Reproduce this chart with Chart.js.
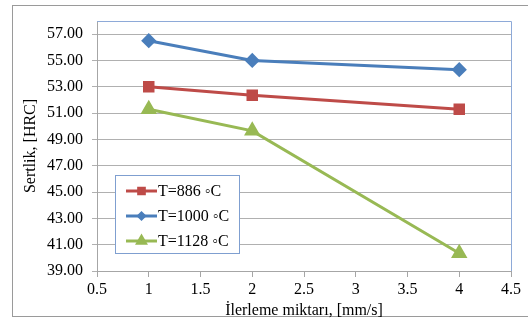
<!DOCTYPE html>
<html>
<head>
<meta charset="utf-8">
<script src="https://cdn.jsdelivr.net/npm/chart.js@4/dist/chart.umd.min.js"></script>
<style>
  html, body { margin: 0; padding: 0; background: #fff; }
  #wrap { position: relative; width: 528px; height: 320px; overflow: hidden; }
  #frame { position: absolute; left: 12px; top: 5px; width: 540px; height: 312px; border: 1px solid #9a9a9a; box-sizing: border-box; }
  #c { position: absolute; left: 0; top: 0; }
</style>
</head>
<body>
<div id="wrap">
  <div id="frame"></div>
  <canvas id="c" width="528" height="320"></canvas>
</div>
<script>
const feedRates = [1, 2, 4];
const seriesNames = ["T=886 \u25E6C", "T=1000 \u25E6C", "T=1128 \u25E6C"];
const hardness886 = [53.0, 52.35, 51.3];
const hardness1000 = [56.5, 55.0, 54.3];
const hardness1128 = [51.3, 49.65, 40.35];
const yTickValues = [39, 41, 43, 45, 47, 49, 51, 53, 55, 57];
const xTickValues = [0.5, 1, 1.5, 2, 2.5, 3, 3.5, 4, 4.5];
const xTitle = "\u0130lerleme miktar\u0131, [mm/s]";
const yTitle = "Sertlik, [HRC]";

const FONT = "'Liberation Serif', 'Times New Roman', serif";
const colors = ["#be4b48", "#4a7ebb", "#98b954"];
const markers = ["rect", "rectRot", "triangle"];
const markerSizes = [6, 5.5, 6.5];
const legendMarkerSizes = [4, 3, 4.5];
const allSeries = [hardness886, hardness1000, hardness1128];

const datasets = allSeries.map((vals, i) => ({
  label: seriesNames[i],
  data: feedRates.map((x, j) => ({ x: x, y: vals[j] })),
  borderColor: colors[i],
  backgroundColor: colors[i],
  borderWidth: 3,
  pointStyle: markers[i],
  pointRadius: markerSizes[i],
  pointHoverRadius: markerSizes[i],
  showLine: true,
  tension: 0
}));

const frameBorder = {
  id: 'frameBorder',
  afterDraw(chart) {
    const a = chart.chartArea, ctx = chart.ctx;
    ctx.save();
    ctx.strokeStyle = '#8eaad8';
    ctx.lineWidth = 1;
    ctx.beginPath();
    ctx.moveTo(a.left, a.top + 0.5);
    ctx.lineTo(a.right + 0.5, a.top + 0.5);
    ctx.lineTo(a.right + 0.5, a.bottom);
    ctx.stroke();
    ctx.restore();
  }
};

const legendBox = {
  id: 'legendBox',
  afterDraw(chart) {
    const ctx = chart.ctx;
    const a = chart.chartArea;
    const bx = a.left + 18, by = a.top + 154, bw = 124, bh = 78;
    ctx.save();
    ctx.fillStyle = '#fff';
    ctx.fillRect(bx, by, bw, bh);
    ctx.strokeStyle = '#7f9fd0';
    ctx.lineWidth = 1;
    ctx.strokeRect(bx + 0.5, by + 0.5, bw, bh);
    ctx.font = "16px " + FONT;
    ctx.textBaseline = 'middle';
    chart.data.datasets.forEach((ds, i) => {
      const cy = by + 16 + i * 25;
      ctx.strokeStyle = ds.borderColor;
      ctx.lineWidth = 3;
      ctx.beginPath();
      ctx.moveTo(bx + 11, cy);
      ctx.lineTo(bx + 42, cy);
      ctx.stroke();
      ctx.fillStyle = ds.backgroundColor;
      Chart.helpers.drawPoint(ctx, { pointStyle: ds.pointStyle, radius: legendMarkerSizes[i], borderWidth: 1 }, bx + 26.5, cy);
      ctx.fillStyle = '#000';
      ctx.fillText(ds.label, bx + 43, cy + 1);
    });
    ctx.restore();
  }
};

new Chart(document.getElementById('c'), {
  type: 'scatter',
  data: { datasets: datasets },
  options: {
    responsive: false,
    animation: false,
    layout: { padding: { left: 21, top: 21, right: 17, bottom: 0 } },
    plugins: {
      legend: { display: false },
      tooltip: { enabled: false }
    },
    scales: {
      x: {
        type: 'linear',
        min: 0.5, max: 4.5,
        afterBuildTicks(scale) { scale.ticks = xTickValues.map(v => ({ value: v })); },
        afterFit(scale) { scale.height = 49; },
        grid: { drawOnChartArea: false, drawTicks: true, tickLength: 6, color: '#a6a6a6' },
        border: { color: '#a6a6a6', width: 1 },
        ticks: {
          font: { family: FONT, size: 16 },
          color: '#000',
          padding: 3,
          maxRotation: 0,
          callback: v => String(v)
        },
        title: {
          display: true,
          text: xTitle,
          font: { family: FONT, size: 16 },
          color: '#000',
          padding: { top: 0, bottom: 0 }
        }
      },
      y: {
        type: 'linear',
        min: 39, max: 58,
        afterBuildTicks(scale) { scale.ticks = yTickValues.map(v => ({ value: v })); },
        afterFit(scale) { scale.width = 76; },
        grid: { color: '#b0b0b0', tickLength: 5, drawTicks: true },
        border: { color: '#a6a6a6', width: 1 },
        ticks: {
          font: { family: FONT, size: 16 },
          color: '#000',
          padding: 9,
          callback: v => Number(v).toFixed(2)
        },
        title: {
          display: true,
          text: yTitle,
          font: { family: FONT, size: 16 },
          color: '#000',
          padding: { top: 0, bottom: 0 }
        }
      }
    }
  },
  plugins: [frameBorder, legendBox]
});
</script>
</body>
</html>
